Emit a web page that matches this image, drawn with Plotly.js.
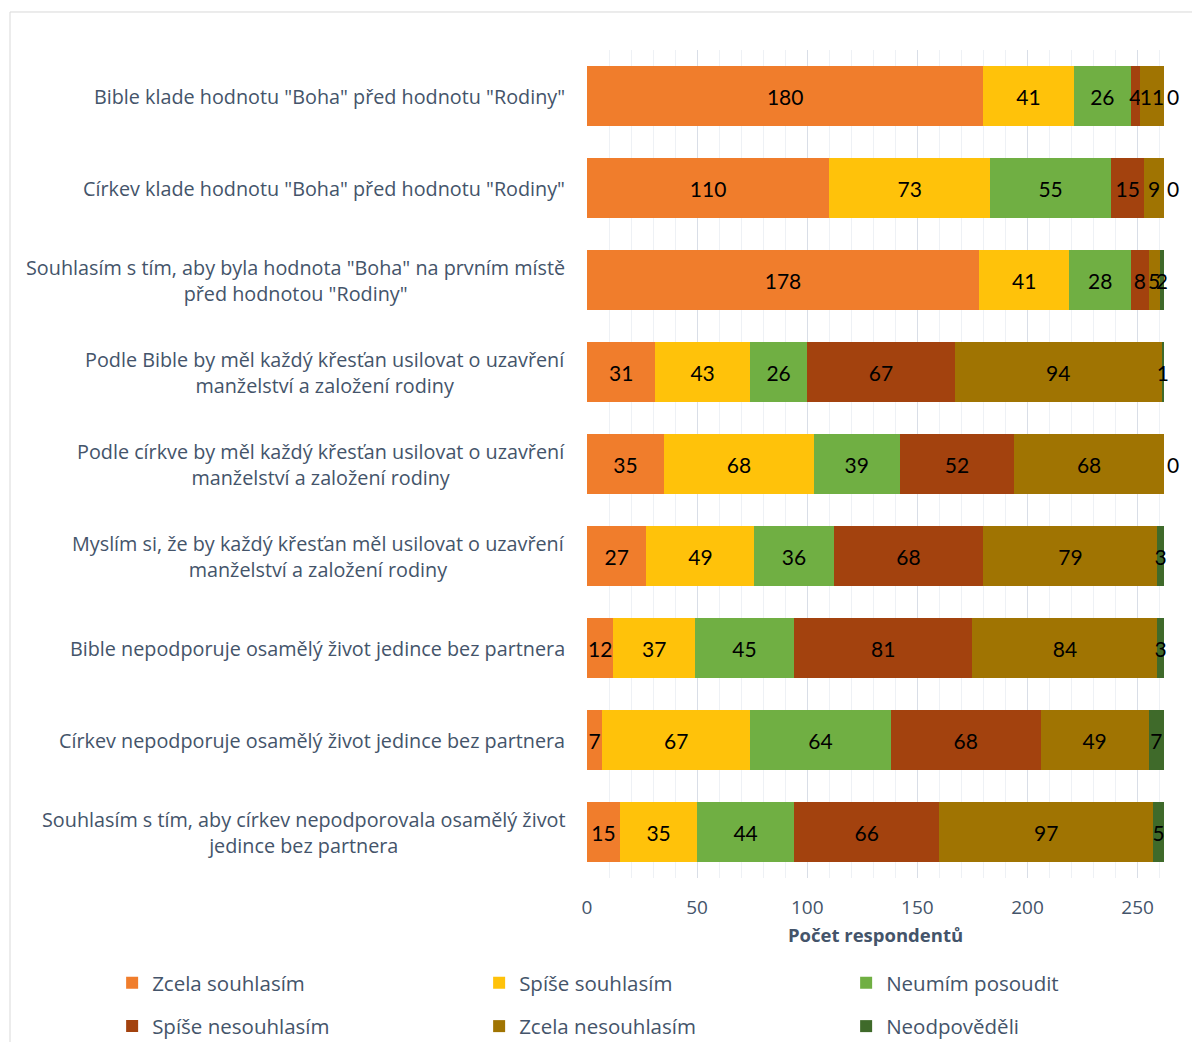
<!DOCTYPE html>
<html>
<head>
<meta charset="utf-8">
<script src="https://cdn.plot.ly/plotly-3.0.1.min.js"></script>
<style>html,body{margin:0;padding:0;background:#fff;}#chart{width:1192px;height:1042px;}</style>
</head>
<body>
<div id="chart"></div>
<script>
const categories = [
  'Bible klade hodnotu "Boha" před hodnotu "Rodiny"',
  'Církev klade hodnotu "Boha" před hodnotu "Rodiny"',
  'Souhlasím s tím, aby byla hodnota "Boha" na prvním místě<br>před hodnotou "Rodiny"',
  'Podle Bible by měl každý křesťan usilovat o uzavření<br>manželství a založení rodiny',
  'Podle církve by měl každý křesťan usilovat o uzavření<br>manželství a založení rodiny',
  'Myslím si, že by každý křesťan měl usilovat o uzavření<br>manželství a založení rodiny',
  'Bible nepodporuje osamělý život jedince bez partnera',
  'Církev nepodporuje osamělý život jedince bez partnera',
  'Souhlasím s tím, aby církev nepodporovala osamělý život<br>jedince bez partnera'
];
const seriesNames = ['Zcela souhlasím','Spíše souhlasím','Neumím posoudit','Spíše nesouhlasím','Zcela nesouhlasím','Neodpověděli'];
const zcelaSouhlasim    = [180, 110, 178, 31, 35, 27, 12, 7, 15];
const spiseSouhlasim    = [41, 73, 41, 43, 68, 49, 37, 67, 35];
const neumimPosoudit    = [26, 55, 28, 26, 39, 36, 45, 64, 44];
const spiseNesouhlasim  = [4, 15, 8, 67, 52, 68, 81, 68, 66];
const zcelaNesouhlasim  = [11, 9, 5, 94, 68, 79, 84, 49, 97];
const neodpovedeli      = [0, 0, 2, 1, 0, 3, 3, 7, 5];
const xTicks = [0, 50, 100, 150, 200, 250];

const values = [zcelaSouhlasim, spiseSouhlasim, neumimPosoudit, spiseNesouhlasim, zcelaNesouhlasim, neodpovedeli];
const colors = ['#F07D2C', '#FFC20A', '#70AF43', '#A3420E', '#A07402', '#3F6A2A'];
const legendIds = ['legend','legend','legend','legend2','legend2','legend2'];

const FONT = 'Lato, "Open Sans", sans-serif';
const FONT2 = '"Open Sans", sans-serif';
const traces = values.map((v, i) => ({
  type: 'bar',
  orientation: 'h',
  name: seriesNames[i],
  y: categories,
  x: v,
  text: v.map(String),
  textposition: v.map(n => n === 0 ? 'outside' : 'inside'),
  insidetextanchor: 'middle',
  constraintext: 'none',
  textangle: 0,
  cliponaxis: false,
  insidetextfont: {family: FONT, size: 21, color: '#000000'},
  outsidetextfont: {family: FONT, size: 21, color: '#000000'},
  marker: {color: colors[i], line: {width: 0}},
  legend: legendIds[i],
  hoverinfo: 'x+name'
}));

const annotations = categories.map(c => ({
  xref: 'paper', yref: 'y', x: 0, y: c,
  xanchor: 'right', yanchor: 'middle', xshift: -20,
  text: c, showarrow: false, align: 'center',
  font: {family: FONT2, size: 19.8, color: '#44546A'}
}));

const legendCommon = {
  orientation: 'h', xanchor: 'left', yanchor: 'middle',
  x: -0.823, entrywidth: 322, entrywidthmode: 'pixels',
  font: {family: FONT2, size: 20.5, color: '#44546A'},
  bgcolor: 'rgba(0,0,0,0)', traceorder: 'normal'
};

const layout = {
  width: 1192, height: 1042,
  margin: {l: 587, r: 28, t: 50, b: 164, autoexpand: false},
  paper_bgcolor: '#ffffff', plot_bgcolor: '#ffffff',
  barmode: 'stack', bargap: 0.35,
  font: {family: FONT},
  xaxis: {
    range: [0, 262], tickvals: xTicks, ticktext: xTicks.map(String),
    showgrid: true, gridcolor: '#D9DEE7', gridwidth: 1,
    minor: {dtick: 10, tick0: 0, showgrid: true, gridcolor: '#EEF1F5', gridwidth: 1},
    zeroline: false, showline: false, ticks: '',
    ticklabelstandoff: 16,
    tickfont: {family: FONT2, size: 19, color: '#44546A'},
    title: {text: '<b>Počet respondentů</b>', font: {family: FONT2, size: 18.5, color: '#44546A'}, standoff: 10}
  },
  yaxis: {
    autorange: 'reversed', showticklabels: false, showgrid: false,
    zeroline: false, showline: false, ticks: ''
  },
  legend: Object.assign({}, legendCommon, {y: -0.1268}),
  legend2: Object.assign({}, legendCommon, {y: -0.1791}),
  annotations: annotations,
  shapes: [{
    type: 'rect', xref: 'paper', yref: 'paper',
    x0: -1.0, x1: 1.08, y0: -0.3, y1: 1.0459,
    line: {color: '#D9D9D9', width: 1}, fillcolor: 'rgba(0,0,0,0)', layer: 'below'
  }],
  showlegend: true
};

Plotly.newPlot('chart', traces, layout, {displayModeBar: false, staticPlot: true});
</script>
</body>
</html>
